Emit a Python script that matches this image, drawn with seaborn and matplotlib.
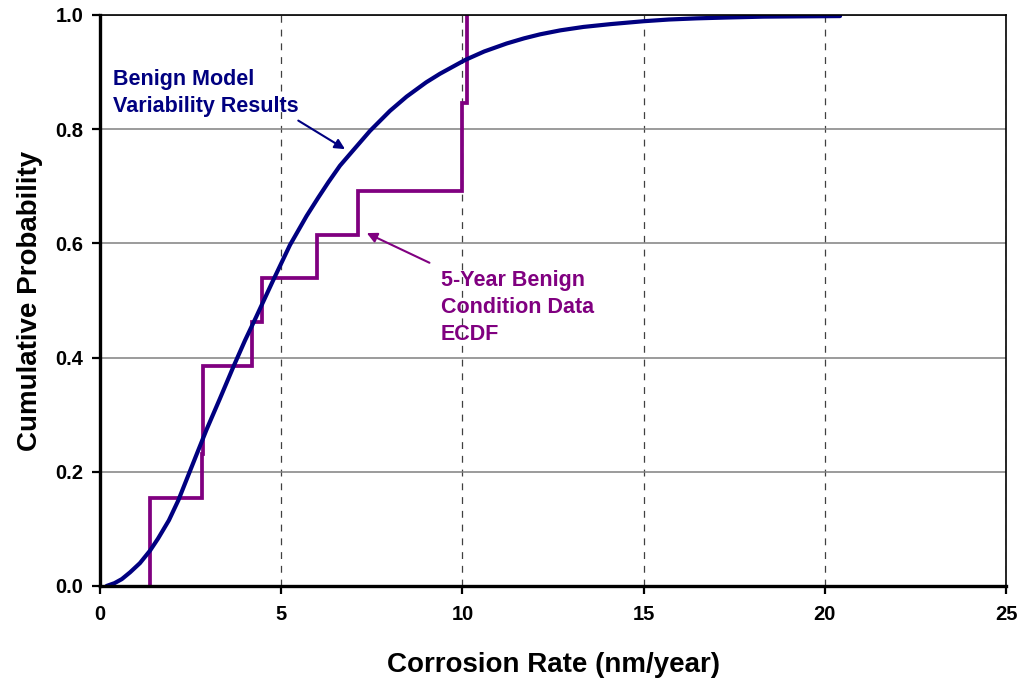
import numpy as np
import pandas as pd
import matplotlib
matplotlib.use("Agg")
import matplotlib.pyplot as plt
from matplotlib.ticker import FormatStrFormatter
import seaborn as sns

# Benign model variability results (cumulative distribution)
model_rate = [0.18, 0.4, 0.6, 0.83, 1.1, 1.38, 1.6, 1.9, 2.16, 2.43, 2.7,
              2.94, 3.3, 3.68, 4.0, 4.3, 4.76, 5.24, 5.7, 6.02, 6.3, 6.62,
              7.0, 7.45, 8.0, 8.46, 9.0, 9.38, 10.07, 10.6, 11.22, 11.7,
              12.14, 12.7, 13.34, 14.1, 15.0, 15.7, 16.46, 17.3, 18.3,
              19.3, 20.42]
model_cum = [0.0, 0.005, 0.012, 0.024, 0.040, 0.062, 0.083, 0.115, 0.150,
             0.193, 0.236, 0.274, 0.327, 0.384, 0.430, 0.470, 0.533, 0.597,
             0.648, 0.680, 0.707, 0.736, 0.764, 0.797, 0.832, 0.857, 0.882,
             0.897, 0.921, 0.936, 0.950, 0.959, 0.966, 0.973, 0.979, 0.984,
             0.989, 0.992, 0.994, 0.9955, 0.997, 0.9975, 0.998]

# 5-year benign condition corrosion rates (nm/year)
benign_rates = [1.37, 1.39, 2.82, 2.83, 2.84, 4.19, 4.47, 5.99, 7.13,
                9.99, 10.0, 10.12, 10.13]

x_ticks = [0, 5, 10, 15, 20, 25]
y_ticks = [0.0, 0.2, 0.4, 0.6, 0.8, 1.0]

NAVY = "#000080"
PURPLE = "#800080"

sns.set_style("white")
plt.rcParams["font.family"] = ["Liberation Sans", "DejaVu Sans"]
plt.rcParams["font.weight"] = "bold"
plt.rcParams["text.color"] = "black"
plt.rcParams["axes.labelcolor"] = "black"
plt.rcParams["xtick.color"] = "black"
plt.rcParams["ytick.color"] = "black"

fig = plt.figure(figsize=(10.23, 6.79), dpi=100)
ax = fig.add_axes([0.0978, 0.137, 0.8856, 0.841])

# gridlines
ax.set_axisbelow(True)
ax.yaxis.grid(True, color="#808080", linewidth=1.1, linestyle="-")
ax.xaxis.grid(True, color="#404040", linewidth=0.9, linestyle=(0, (5.5, 5.5)))

# empirical CDF of the measured rates
sns.ecdfplot(x=benign_rates, ax=ax, color=PURPLE, linewidth=2.7)
ecdf_line = ax.lines[-1]
xd, yd = ecdf_line.get_data()
xd = np.asarray(xd, dtype=float)
finite = np.isfinite(xd)
xd[~finite] = xd[finite][0]
ecdf_line.set_data(xd, yd)
ecdf_line.set_solid_joinstyle("miter")

# model distribution curve
model_df = pd.DataFrame({"rate": model_rate, "cum": model_cum})
sns.lineplot(data=model_df, x="rate", y="cum", ax=ax, color=NAVY,
             linewidth=3.0, estimator=None, sort=True)
ax.lines[-1].set_solid_joinstyle("round")
ax.lines[-1].set_solid_capstyle("round")

ax.set_xlim(0, 25)
ax.set_ylim(0, 1.0)
ax.set_xticks(x_ticks)
ax.set_yticks(y_ticks)
ax.yaxis.set_major_formatter(FormatStrFormatter("%.1f"))

for side in ("left", "bottom"):
    ax.spines[side].set_linewidth(2.4)
    ax.spines[side].set_color("black")
for side in ("top", "right"):
    ax.spines[side].set_linewidth(1.2)
    ax.spines[side].set_color("black")
    ax.spines[side].set_visible(True)

ax.tick_params(axis="both", which="major", direction="out", length=6,
               width=1.6, color="black", labelcolor="black", labelsize=14.5,
               bottom=True, left=True, top=False, right=False)
ax.tick_params(axis="x", pad=8)
ax.tick_params(axis="y", pad=6)
for lab in ax.get_xticklabels() + ax.get_yticklabels():
    lab.set_fontweight("bold")

ax.set_xlabel("Corrosion Rate (nm/year)", fontsize=20, fontweight="bold",
              color="black", labelpad=20)
ax.set_ylabel("Cumulative Probability", fontsize=20, fontweight="bold",
              color="black", labelpad=9)

# callouts
ax.text(0.35, 0.905, "Benign Model\nVariability Results", color=NAVY,
        fontsize=15.5, fontweight="bold", ha="left", va="top",
        linespacing=1.38)
ax.annotate("", xy=(6.76, 0.765), xytext=(5.47, 0.815),
            arrowprops=dict(arrowstyle="-|>", color=NAVY, lw=1.5,
                            mutation_scale=15, shrinkA=0, shrinkB=0))

ax.text(9.40, 0.553, "5-Year Benign\nCondition Data\nECDF", color=PURPLE,
        fontsize=15.5, fontweight="bold", ha="left", va="top",
        linespacing=1.38)
ax.annotate("", xy=(7.36, 0.618), xytext=(9.09, 0.566),
            arrowprops=dict(arrowstyle="-|>", color=PURPLE, lw=1.5,
                            mutation_scale=15, shrinkA=0, shrinkB=0))

fig.savefig("out.png", dpi=100)
